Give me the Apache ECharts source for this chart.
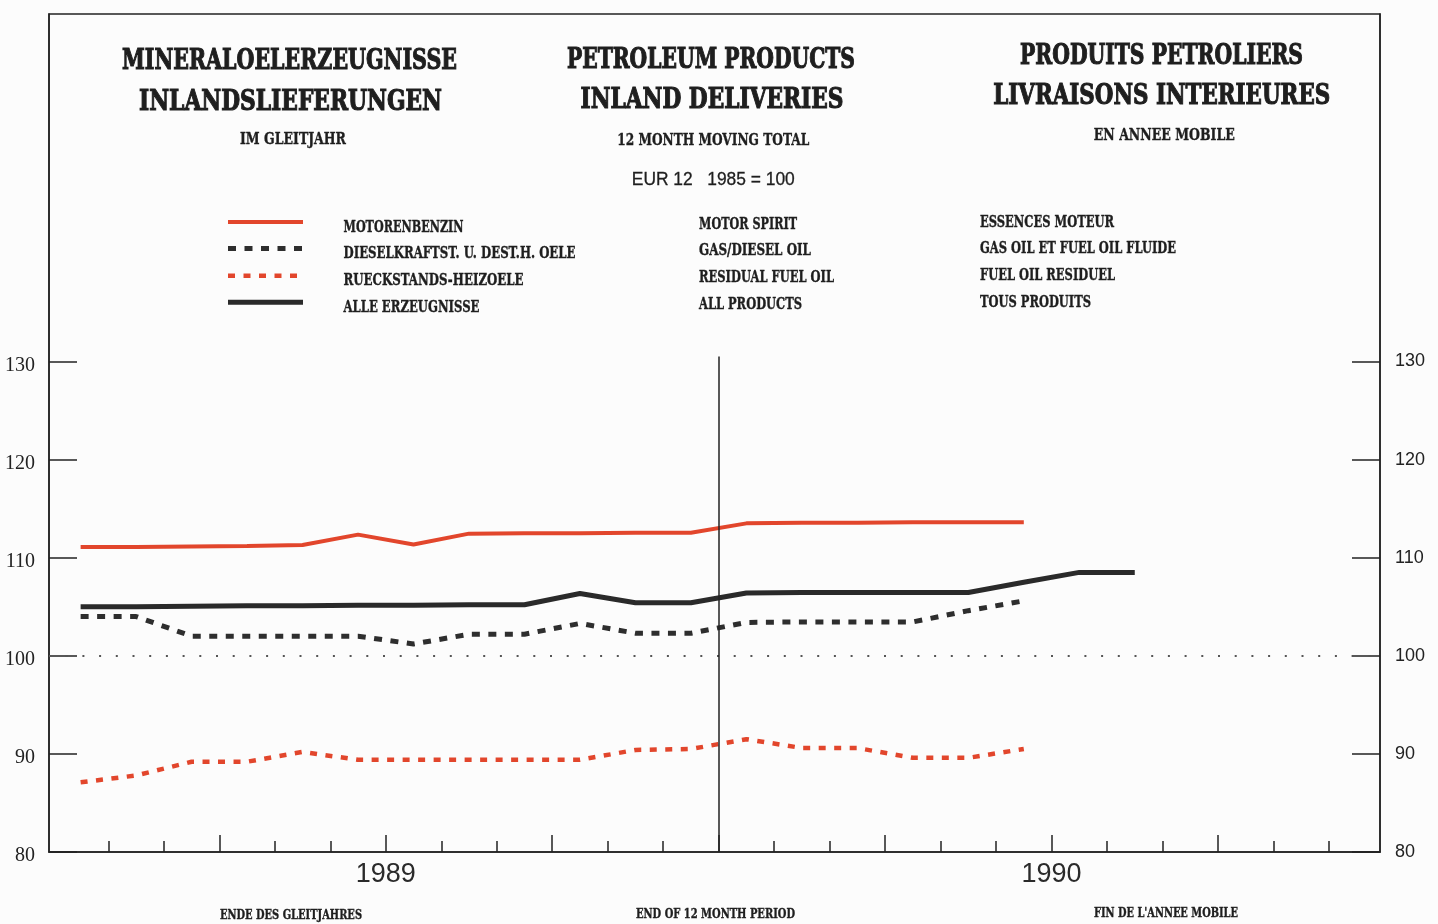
<!DOCTYPE html>
<html>
<head>
<meta charset="utf-8">
<script src="https://cdn.jsdelivr.net/npm/echarts@6/dist/echarts.min.js"></script>
<style>
html,body{margin:0;padding:0;background:#fcfcfc;}
#chart{width:1438px;height:924px;}
</style>
</head>
<body>
<div id="chart"></div>
<script>
// ---------- DATA ----------
const months = ['1989-01','1989-02','1989-03','1989-04','1989-05','1989-06','1989-07','1989-08','1989-09','1989-10','1989-11','1989-12',
                '1990-01','1990-02','1990-03','1990-04','1990-05','1990-06','1990-07','1990-08','1990-09','1990-10','1990-11','1990-12'];
const yearLabels = ['1989', '1990'];
const motorSpirit  = [111.1, 111.1, 111.15, 111.2, 111.3, 112.35, 111.35, 112.45, 112.5, 112.5, 112.55, 112.55, 113.5, 113.55, 113.55, 113.6, 113.6, 113.6];
const gasDieselOil = [104.0, 104.0, 102.0, 102.0, 102.0, 102.0, 101.2, 102.2, 102.2, 103.3, 102.3, 102.3, 103.4, 103.45, 103.45, 103.45, 104.6, 105.6];
const residualFuel = [87.1, 87.8, 89.2, 89.2, 90.2, 89.4, 89.4, 89.4, 89.4, 89.4, 90.4, 90.5, 91.5, 90.6, 90.6, 89.6, 89.6, 90.5];
const allProducts  = [105.0, 105.0, 105.05, 105.1, 105.1, 105.15, 105.15, 105.2, 105.2, 106.35, 105.4, 105.4, 106.4, 106.45, 106.45, 106.45, 106.45, 107.5, 108.5, 108.5];
const yTickValues = [80, 90, 100, 110, 120, 130];
const baseIndex = 100;

// ---------- LAYOUT / STYLE ----------
const RED = '#e2462c';
const INK = '#1e1e1e';
const seriesStyle = {
  motor: { color: RED, width: 4, type: 'solid' },
  gas:   { color: '#2e2e2e', width: 5, type: [8, 8.5] },
  resid: { color: RED, width: 4.5, type: [7, 8.5] },
  all:   { color: '#2a2a2a', width: 5, type: 'solid' }
};
const X_MIN = -0.07, X_MAX = 23.92, Y_MIN = 80, Y_MAX = 165.42;

const monthBoundaries = months.slice(1).map((m, i) => i + 1);
const quarterBoundaries = monthBoundaries.filter(v => v % 3 === 0);
const yearCenters = yearLabels.map((y, i) => 12 * i + 6);
const yearBoundary = months.indexOf('1990-01');
const pts = arr => arr.map((v, i) => [i + 0.5, v]);

const measure = document.createElement('canvas').getContext('2d');
function textEl(text, x, y, width, size, weight, family, align, strokeW) {
  const font = (weight === 'bold' ? 'bold ' : '') + size + 'px ' + family;
  measure.font = font;
  const w = measure.measureText(text).width;
  const s = width / w;
  const style = {
    text: text, fill: INK, fontSize: size, fontWeight: weight, fontFamily: family,
    align: align, verticalAlign: 'middle', textAlign: align, textVerticalAlign: 'middle'
  };
  if (strokeW) { style.stroke = INK; style.lineWidth = strokeW; }
  return { type: 'text', x: x, y: y, scaleX: s, silent: true, style: style };
}
const SERIF = 'DejaVu Serif';
// [text, x, centerY, width]
const bigTitles = [
  ['MINERALOELERZEUGNISSE', 289.5, 62, 335],
  ['INLANDSLIEFERUNGEN', 290.5, 103, 303],
  ['PETROLEUM PRODUCTS', 711, 61, 288],
  ['INLAND DELIVERIES', 712, 101, 263],
  ['PRODUITS PETROLIERS', 1161.5, 57, 283],
  ['LIVRAISONS INTERIEURES', 1161.7, 97, 337]
];
const subTitles = [
  ['IM GLEITJAHR', 293, 140, 106],
  ['12 MONTH MOVING TOTAL', 713.3, 140.5, 192],
  ['EN ANNEE MOBILE', 1164.3, 136, 141]
];
const legendRows = [
  { key: 'motor', y: 222, de: 'MOTORENBENZIN', deW: 120, en: 'MOTOR SPIRIT', enW: 98, fr: 'ESSENCES MOTEUR', frW: 134 },
  { key: 'gas', y: 248.5, de: 'DIESELKRAFTST. U. DEST.H. OELE', deW: 232, en: 'GAS/DIESEL OIL', enW: 112, fr: 'GAS OIL ET FUEL OIL FLUIDE', frW: 196 },
  { key: 'resid', y: 275.7, de: 'RUECKSTANDS-HEIZOELE', deW: 180, en: 'RESIDUAL FUEL OIL', enW: 135, fr: 'FUEL OIL RESIDUEL', frW: 135 },
  { key: 'all', y: 302.3, de: 'ALLE ERZEUGNISSE', deW: 136, en: 'ALL PRODUCTS', enW: 103, fr: 'TOUS PRODUITS', frW: 111 }
];
const footTexts = [
  ['ENDE DES GLEITJAHRES', 291, 915, 142],
  ['END OF 12 MONTH PERIOD', 715.5, 914, 159],
  ["FIN DE L'ANNEE MOBILE", 1166, 913, 144]
];

const graphics = [];
bigTitles.forEach(t => graphics.push(textEl(t[0], t[1], t[2], t[3], 27, 'bold', SERIF, 'center', 1.1)));
subTitles.forEach(t => graphics.push(textEl(t[0], t[1], t[2], t[3], 17, 'bold', SERIF, 'center', 0.4)));
graphics.push(textEl('EUR 12   1985 = 100', 713.3, 180, 163, 18, 'normal', 'Liberation Sans', 'center', 0.3));
legendRows.forEach((r, i) => {
  const st = seriesStyle[r.key];
  graphics.push({
    type: 'line', silent: true,
    shape: { x1: 228, y1: r.y, x2: 303, y2: r.y },
    style: { stroke: st.color, lineWidth: st.width, lineDash: Array.isArray(st.type) ? st.type : null }
  });
  graphics.push(textEl(r.de, 343.5, r.y + 5.5, r.deW, 16, 'bold', SERIF, 'left', 0.4));
  graphics.push(textEl(r.en, 699, r.y + 2.5 - i * 0.1, r.enW, 16, 'bold', SERIF, 'left', 0.4));
  graphics.push(textEl(r.fr, 980, r.y + 0.5, r.frW, 16, 'bold', SERIF, 'left', 0.4));
});
footTexts.forEach(t => graphics.push(textEl(t[0], t[1], t[2], t[3], 13.5, 'bold', SERIF, 'center', 0.4)));

const axisColor = '#222';
const chart = echarts.init(document.getElementById('chart'), null, { renderer: 'canvas' });
chart.setOption({
  animation: false,
  backgroundColor: '#fcfcfc',
  grid: { left: 49, right: 58, top: 14, bottom: 72, show: true, borderColor: axisColor, borderWidth: 1.5, backgroundColor: 'transparent' },
  xAxis: [
    {
      type: 'value', min: X_MIN, max: X_MAX, position: 'bottom',
      axisLine: { show: true, onZero: false, lineStyle: { color: axisColor, width: 1.5 } },
      splitLine: { show: false },
      axisTick: { show: true, inside: true, length: 11, customValues: monthBoundaries, lineStyle: { color: axisColor, width: 1.5 } },
      axisLabel: {
        show: true, customValues: yearCenters, margin: 23, verticalAlign: 'middle',
        formatter: v => yearLabels[Math.round((v - 6) / 12)],
        fontFamily: 'Liberation Sans', fontSize: 27, color: '#2a2a2a'
      }
    },
    {
      type: 'value', min: X_MIN, max: X_MAX, position: 'bottom', offset: 0,
      axisLine: { show: false, onZero: false },
      splitLine: { show: false },
      axisTick: { show: true, inside: true, length: 17, customValues: quarterBoundaries, lineStyle: { color: axisColor, width: 1.5 } },
      axisLabel: { show: false }
    }
  ],
  yAxis: [
    {
      type: 'value', min: Y_MIN, max: Y_MAX, position: 'left',
      axisLine: { show: true, onZero: false, lineStyle: { color: axisColor, width: 1.5 } },
      splitLine: { show: false },
      axisTick: { show: true, inside: true, length: 28, customValues: yTickValues, lineStyle: { color: axisColor, width: 1.5 } },
      axisLabel: {
        customValues: yTickValues, margin: 14,
        formatter: v => '{a|' + v + '}',
        rich: { a: { padding: [8, 0, 0, 0], fontFamily: 'Liberation Serif', fontSize: 20, color: '#222' } }
      }
    },
    {
      type: 'value', min: Y_MIN, max: Y_MAX, position: 'right',
      axisLine: { show: true, onZero: false, lineStyle: { color: axisColor, width: 1.5 } },
      splitLine: { show: false },
      axisTick: { show: true, inside: true, length: 28, customValues: yTickValues, lineStyle: { color: axisColor, width: 1.5 } },
      axisLabel: { customValues: yTickValues, margin: 15, fontFamily: 'Liberation Sans', fontSize: 18, color: '#222' }
    }
  ],
  series: [
    {
      type: 'line', name: 'RUECKSTANDS-HEIZOELE', data: pts(residualFuel), symbol: 'none', showSymbol: false,
      lineStyle: seriesStyle.resid, itemStyle: { color: RED }, z: 3
    },
    {
      type: 'line', name: 'DIESELKRAFTST. U. DEST.H. OELE', data: pts(gasDieselOil), symbol: 'none', showSymbol: false,
      lineStyle: seriesStyle.gas, itemStyle: { color: '#2e2e2e' }, z: 3
    },
    {
      type: 'line', name: 'ALLE ERZEUGNISSE', data: pts(allProducts), symbol: 'none', showSymbol: false,
      lineStyle: seriesStyle.all, itemStyle: { color: '#2a2a2a' }, z: 3,
      markLine: {
        silent: true, symbol: ['none', 'none'], label: { show: false }, animation: false,
        data: [
          { yAxis: baseIndex, lineStyle: { type: [2, 14.7], width: 2, color: '#555' } },
          [{ coord: [yearBoundary, Y_MIN], lineStyle: { type: 'solid', width: 1.5, color: '#222' } }, { coord: [yearBoundary, 130.5] }]
        ]
      }
    },
    {
      type: 'line', name: 'MOTORENBENZIN', data: pts(motorSpirit), symbol: 'none', showSymbol: false,
      lineStyle: seriesStyle.motor, itemStyle: { color: RED }, z: 4
    }
  ],
  graphic: { elements: graphics }
});
</script>
</body>
</html>
